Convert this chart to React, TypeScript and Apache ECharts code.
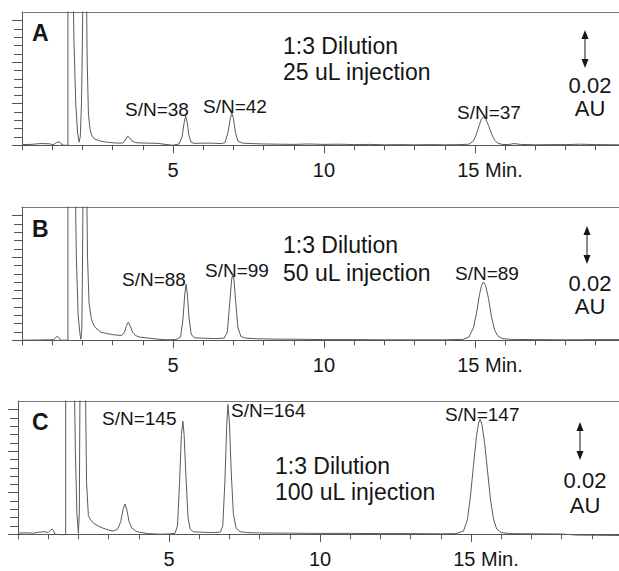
import React, { useEffect, useRef } from 'react';
import * as echarts from 'echarts';

// Retention time (min) vs absorbance (mAU); 0.02 AU = 20 mAU
const traceA: number[][] = [
  [0, 0.3], [0.3, 0.4], [0.6, 0.8], [0.9, 0.7], [1.02, 0.3], [1.08, 0.6], [1.15, 1.4], [1.22, 1.6], [1.28, 1.2],
  [1.32, 0.2], [1.4, 0.0], [1.52, 0.0], [1.52, 90], [1.68, 90], [1.72, 50], [1.78, 20], [1.84, 6], [1.89, 1.5],
  [1.93, 4], [1.97, 20], [2.0, 50], [2.03, 90], [2.12, 90], [2.16, 40], [2.2, 15], [2.25, 8], [2.3, 5], [2.4, 3],
  [2.6, 2], [2.8, 1.5], [3.0, 1.2], [3.2, 1.0], [3.35, 1.1], [3.42, 2.5], [3.5, 4.3], [3.57, 3.5], [3.65, 2.0],
  [3.75, 1.3], [3.9, 1.1], [4.2, 1.0], [4.5, 0.9], [4.8, 0.3], [5.0, 0.0], [5.2, 0.6], [5.3, 4], [5.37, 11],
  [5.42, 14], [5.47, 11], [5.53, 4.5], [5.6, 1.5], [5.7, 0.9], [6.0, 1.0], [6.3, 1.0], [6.6, 0.8], [6.72, 1.2],
  [6.82, 6], [6.9, 13], [6.95, 15.4], [7.0, 13], [7.07, 6], [7.15, 2], [7.3, 1.0], [7.6, 0.8], [8.0, 0.6],
  [8.5, 0.5], [9, 0.4], [9.5, 0.6], [10, 0.4], [10.5, 0.5], [11, 0.3], [11.5, 0.4], [12, 0.2], [12.5, 0.3],
  [13, 0.2], [13.5, 0.3], [14, 0.2], [14.5, 0.3], [14.8, 0.5], [14.95, 2], [15.05, 5.5], [15.15, 10],
  [15.22, 12.8], [15.28, 13.5], [15.35, 12.8], [15.45, 9.5], [15.55, 5.5], [15.65, 2.5], [15.75, 1.0],
  [15.9, 0.4], [16.1, 0.3], [16.3, 0.8], [16.5, 0.4], [17, 0.2], [17.5, 0.3], [18, 0.3], [18.5, 0.5],
  [19, 0.3], [19.8, 0.2],
];

const traceB: number[][] = [
  [0, 0], [0.5, 0.1], [0.9, 0.2], [1.05, 0.3], [1.12, 1.2], [1.17, 2], [1.22, 1.2], [1.28, 0], [1.52, 0],
  [1.52, 90], [1.75, 90], [1.8, 40], [1.86, 12], [1.92, 3], [1.95, 0.5], [1.98, 5], [2.0, 30], [2.03, 90],
  [2.13, 90], [2.17, 40], [2.22, 18], [2.3, 10], [2.4, 6.5], [2.6, 4], [2.8, 3.2], [3.1, 2.5], [3.3, 2.3],
  [3.4, 4], [3.46, 7], [3.52, 8.7], [3.58, 7], [3.66, 4], [3.75, 2.3], [3.9, 1.5], [4.2, 1.0], [4.5, 0.5],
  [4.8, 0.2], [5.1, 0.3], [5.25, 1.5], [5.33, 10], [5.39, 22], [5.43, 27], [5.47, 23], [5.53, 11], [5.6, 3],
  [5.7, 1.2], [6.0, 1.0], [6.4, 0.8], [6.7, 1.0], [6.8, 4], [6.88, 18], [6.94, 29], [6.98, 31.8], [7.02, 29],
  [7.08, 18], [7.15, 6], [7.25, 1.8], [7.4, 1.0], [7.8, 0.7], [8.5, 0.5], [9, 0.5], [10, 0.3], [11, 0.3],
  [12, 0.2], [13, 0.2], [14, 0.2], [14.6, 0.4], [14.8, 1.5], [14.95, 6], [15.05, 13], [15.15, 22],
  [15.22, 26.5], [15.28, 28], [15.35, 26.5], [15.45, 20], [15.55, 11], [15.65, 5], [15.75, 2.2], [15.9, 0.8],
  [16.2, 0.4], [17, 0.3], [18, 0.2], [19, 0.3], [19.8, 0.3],
];

const traceC: number[][] = [
  [0, 0.5], [0.3, 0.7], [0.5, 0.5], [0.7, 1.0], [0.9, 1.2], [1.0, 0.8], [1.08, 2.0], [1.13, 2.4], [1.18, 1.8],
  [1.22, 0], [1.4, -0.2], [1.58, -0.2], [1.58, 90], [1.85, 90], [1.9, 40], [1.95, 10], [2.0, 0.5], [2.03, 10],
  [2.06, 90], [2.22, 90], [2.27, 25], [2.33, 9], [2.4, 7], [2.5, 5.3], [2.65, 4], [2.8, 3], [3.0, 2],
  [3.15, 1.5], [3.3, 2.5], [3.4, 6], [3.48, 12], [3.54, 14.5], [3.6, 12], [3.68, 6], [3.77, 3], [3.9, 1.5],
  [4.0, 1.0], [4.3, 0.3], [4.7, 0.0], [5.0, 0.1], [5.2, 0.5], [5.28, 4], [5.35, 25], [5.41, 48], [5.46, 54.5],
  [5.5, 48], [5.56, 28], [5.63, 8], [5.7, 2.5], [5.8, 1.2], [6.0, 1.0], [6.4, 0.8], [6.7, 1.0], [6.78, 4],
  [6.85, 25], [6.91, 52], [6.95, 62.5], [7.0, 54], [7.06, 30], [7.13, 10], [7.22, 3], [7.35, 1.2], [7.6, 0.8],
  [8, 0.6], [9, 0.5], [10, 0.4], [11, 0.4], [12, 0.3], [13, 0.3], [14, 0.2], [14.5, 0.3], [14.75, 1.5],
  [14.88, 7], [14.98, 18], [15.08, 33], [15.18, 47], [15.25, 53.5], [15.3, 55.4], [15.36, 53], [15.45, 44],
  [15.55, 30], [15.65, 16], [15.75, 7], [15.85, 2.5], [16.0, 0.8], [16.3, 0.3], [17, 0.2], [18, 0.1],
  [18.5, -0.4], [19.2, -0.5], [19.9, -0.6],
];

const panelLetters = ['A', 'B', 'C'];
const dilutionLabel = '1:3 Dilution';
const injectionLabels = ['25 uL injection', '50 uL injection', '100 uL injection'];
const snLabelsA = ['S/N=38', 'S/N=42', 'S/N=37'];
const snLabelsB = ['S/N=88', 'S/N=99', 'S/N=89'];
const snLabelsC = ['S/N=145', 'S/N=164', 'S/N=147'];
const scaleBarLabels = ['0.02', 'AU'];
const majorXTicks = [5, 10, 15];
const minorXTicks = [1, 2, 3, 4, 6, 7, 8, 9, 11, 12, 13, 14, 16, 17, 18, 19];
const majorYTicks = [0, 20, 40, 60];
const minorYTicks = [4, 8, 12, 16, 24, 28, 32, 36, 44, 48, 52, 56];
const xUnit = 'Min.';

const FONT = '"Liberation Sans", Arial, Helvetica, sans-serif';
const INK = '#151515';
const AXIS = '#555';

const Y_MIN = -2.3;
const Y_MAX = 64.2;

const panels = [
  {
    trace: traceA, sn: snLabelsA, left: 22, top: 12, xMax: 19.77, letterY: 33,
    snPos: [[125, 109], [203, 106], [457, 112]], dilX: 283, dilY: [46, 72],
    bar: { x: 585, y1: 30, y2: 68, tx: 590, t1: 85.5, t2: 108.5 },
  },
  {
    trace: traceB, sn: snLabelsB, left: 22, top: 207, xMax: 19.77, letterY: 229,
    snPos: [[122, 279], [205, 270], [455, 273]], dilX: 283, dilY: [245, 273],
    bar: { x: 587, y1: 226, y2: 264, tx: 590, t1: 283, t2: 306 },
  },
  {
    trace: traceC, sn: snLabelsC, left: 18, top: 401, xMax: 19.9, letterY: 422,
    snPos: [[102, 418], [231, 410], [445, 414]], dilX: 275, dilY: [466, 492],
    bar: { x: 580, y1: 422, y2: 460, tx: 585, t1: 480, t2: 505 },
  },
];

function txt(text: string, x: number, y: number, size: number, weight = 'normal', align = 'left') {
  return {
    type: 'text',
    x,
    y,
    silent: true,
    style: {
      text,
      fill: INK,
      fontSize: size,
      fontWeight: weight,
      fontFamily: FONT,
      align,
      textAlign: align,
      verticalAlign: 'middle',
      textVerticalAlign: 'middle',
    },
  };
}

export default function App() {
  const ref = useRef<HTMLDivElement>(null);

  useEffect(() => {
    if (!ref.current) return;
    const chart = echarts.init(ref.current, undefined, { renderer: 'svg' });

    const grid: any[] = [];
    const xAxis: any[] = [];
    const yAxis: any[] = [];
    const series: any[] = [];
    const graphic: any[] = [];

    panels.forEach((p, i) => {
      grid.push({ left: p.left, top: p.top, height: 138, right: 0, containLabel: false });
      const xBase = { gridIndex: i, type: 'value', min: 0, max: p.xMax, splitLine: { show: false } };
      const xi = xAxis.length;
      xAxis.push({
        ...xBase,
        position: 'bottom',
        axisLine: { show: true, lineStyle: { color: AXIS, width: 1 } },
        axisTick: { show: true, customValues: majorXTicks, length: 8, lineStyle: { color: AXIS } },
        axisLabel: {
          show: true,
          customValues: majorXTicks,
          margin: 10,
          fontSize: 20,
          fontFamily: FONT,
          color: INK,
          formatter: (v: number) => (v === 15 ? `{m|${v} ${xUnit}}` : String(v)),
          rich: { m: { fontSize: 20, fontFamily: FONT, color: INK, padding: [0, 0, 0, 30] } },
        },
      });
      xAxis.push({
        ...xBase,
        position: 'bottom',
        axisLine: { show: false },
        axisTick: { show: true, customValues: minorXTicks, length: 5, lineStyle: { color: AXIS } },
        axisLabel: { show: false },
      });
      xAxis.push({
        ...xBase,
        position: 'top',
        axisLine: { show: true, lineStyle: { color: '#777', width: 1 } },
        axisTick: { show: false },
        axisLabel: { show: false },
      });
      const yBase = { gridIndex: i, type: 'value', min: Y_MIN, max: Y_MAX, splitLine: { show: false }, position: 'left' };
      const yi = yAxis.length;
      yAxis.push({
        ...yBase,
        axisLine: { show: true, lineStyle: { color: AXIS, width: 1 } },
        axisTick: { show: true, customValues: majorYTicks, length: 10, lineStyle: { color: AXIS } },
        axisLabel: { show: false },
      });
      yAxis.push({
        ...yBase,
        axisLine: { show: false },
        axisTick: { show: true, customValues: minorYTicks, length: 8, lineStyle: { color: AXIS } },
        axisLabel: { show: false },
      });
      series.push({
        type: 'line',
        xAxisIndex: xi,
        yAxisIndex: yi,
        data: p.trace,
        showSymbol: false,
        symbol: 'none',
        clip: true,
        lineStyle: { color: '#5a5a5a', width: 1 },
        silent: true,
      });

      graphic.push(txt(panelLetters[i], 32, p.letterY, 23, 'bold'));
      p.sn.forEach((s, k) => graphic.push(txt(s, p.snPos[k][0], p.snPos[k][1], 19)));
      graphic.push(txt(dilutionLabel, p.dilX, p.dilY[0], 23));
      graphic.push(txt(injectionLabels[i], p.dilX, p.dilY[1], 23));
      const b = p.bar;
      graphic.push({
        type: 'line', silent: true,
        shape: { x1: b.x, y1: b.y1 + 6, x2: b.x, y2: b.y2 - 6 },
        style: { stroke: INK, lineWidth: 1 },
      });
      graphic.push({
        type: 'polygon', silent: true,
        shape: { points: [[b.x, b.y1], [b.x - 3.5, b.y1 + 9], [b.x + 3.5, b.y1 + 9]] },
        style: { fill: INK },
      });
      graphic.push({
        type: 'polygon', silent: true,
        shape: { points: [[b.x, b.y2], [b.x - 3.5, b.y2 - 9], [b.x + 3.5, b.y2 - 9]] },
        style: { fill: INK },
      });
      graphic.push(txt(scaleBarLabels[0], b.tx, b.t1, 22, 'normal', 'center'));
      graphic.push(txt(scaleBarLabels[1], b.tx, b.t2, 22, 'normal', 'center'));
    });

    chart.setOption({
      animation: false,
      backgroundColor: '#ffffff',
      grid,
      xAxis,
      yAxis,
      series,
      graphic,
    });

    return () => chart.dispose();
  }, []);

  return (
    <div
      ref={ref}
      style={{ position: 'fixed', left: 0, top: 0, width: 619, height: 571, background: '#fff' }}
    />
  );
}
